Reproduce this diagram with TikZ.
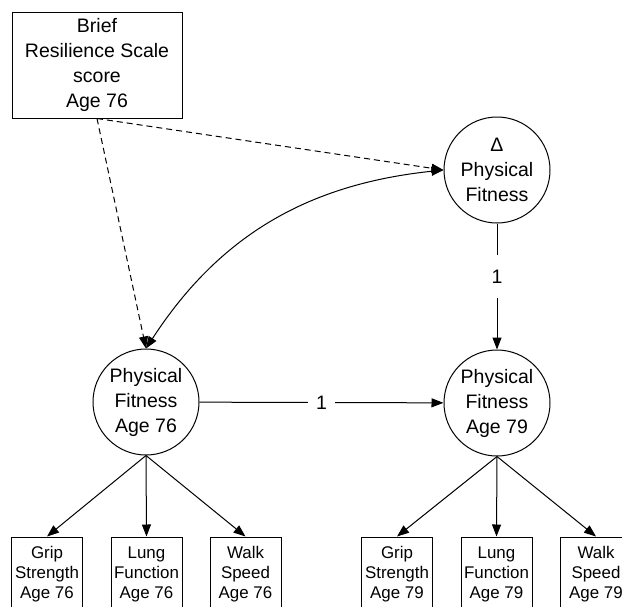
\documentclass[tikz,border=0pt]{standalone}
\usepackage{fontspec}
\setmainfont{Liberation Sans}
\usetikzlibrary{arrows.meta}

\begin{document}
\begin{tikzpicture}[x=1pt,y=-1pt,line width=1pt,
  seta/.style={-{Triangle[length=12pt,width=9pt]}},
  tracejado/.style={dash pattern=on 6pt off 4pt},
  caixa/.style={draw,minimum width=170pt,minimum height=106pt,inner sep=0pt,align=center,font=\fontsize{19.5pt}{25pt}\selectfont},
  medida/.style={draw,minimum width=71pt,minimum height=74pt,inner sep=0pt,align=center,font=\fontsize{16.9pt}{20pt}\selectfont},
  latente/.style={draw,circle,minimum size=106pt,inner sep=0pt,align=center,font=\fontsize{19.5pt}{25pt}\selectfont},
  um/.style={fill=white,inner sep=0pt,font=\fontsize{19.5pt}{25pt}\selectfont}]
  \useasboundingbox (0,0) rectangle (622,606);

  %escala de resiliencia
  \node[caixa] (brs) at (97,65) {Brief\\Resilience Scale\\score\\Age 76};

  %latentes
  \node[latente] (dpf) at (497,170) {Δ\\Physical\\Fitness};
  \node[latente] (pf76) at (146,402) {Physical\\Fitness\\Age 76};
  \node[latente] (pf79) at (497,403) {Physical\\Fitness\\Age 79};

  %indicadores
  \node[medida] (g76) at (47,574) {Grip\\Strength\\Age 76};
  \node[medida] (l76) at (146.5,574) {Lung\\Function\\Age 76};
  \node[medida] (w76) at (245.5,574) {Walk\\Speed\\Age 76};
  \node[medida] (g79) at (397,574) {Grip\\Strength\\Age 79};
  \node[medida] (l79) at (496.5,574) {Lung\\Function\\Age 79};
  \node[medida] (w79) at (596,574) {Walk\\Speed\\Age 79};

  %caminhos
  \draw[seta,tracejado] (brs.south) -- (pf76.north);
  \draw[seta,tracejado] (brs.south) -- (dpf.west);
  \draw[{Triangle[length=12pt,width=9pt]}-{Triangle[length=12pt,width=9pt]}] (pf76.north) to[out=57,in=186] (dpf.west);
  \draw[seta] (pf76) -- node[um,inner xsep=8pt] {1} (pf79);
  \draw[seta] (dpf) -- node[um,pos=0.42,inner ysep=15pt] {1} (pf79);

  %cargas
  \draw[seta] (pf76.south) -- (g76.north);
  \draw[seta] (pf76.south) -- (l76.north);
  \draw[seta] (pf76.south) -- (w76.north);
  \draw[seta] (pf79.south) -- (g79.north);
  \draw[seta] (pf79.south) -- (l79.north);
  \draw[seta] (pf79.south) -- (w79.north);
\end{tikzpicture}
\end{document}
